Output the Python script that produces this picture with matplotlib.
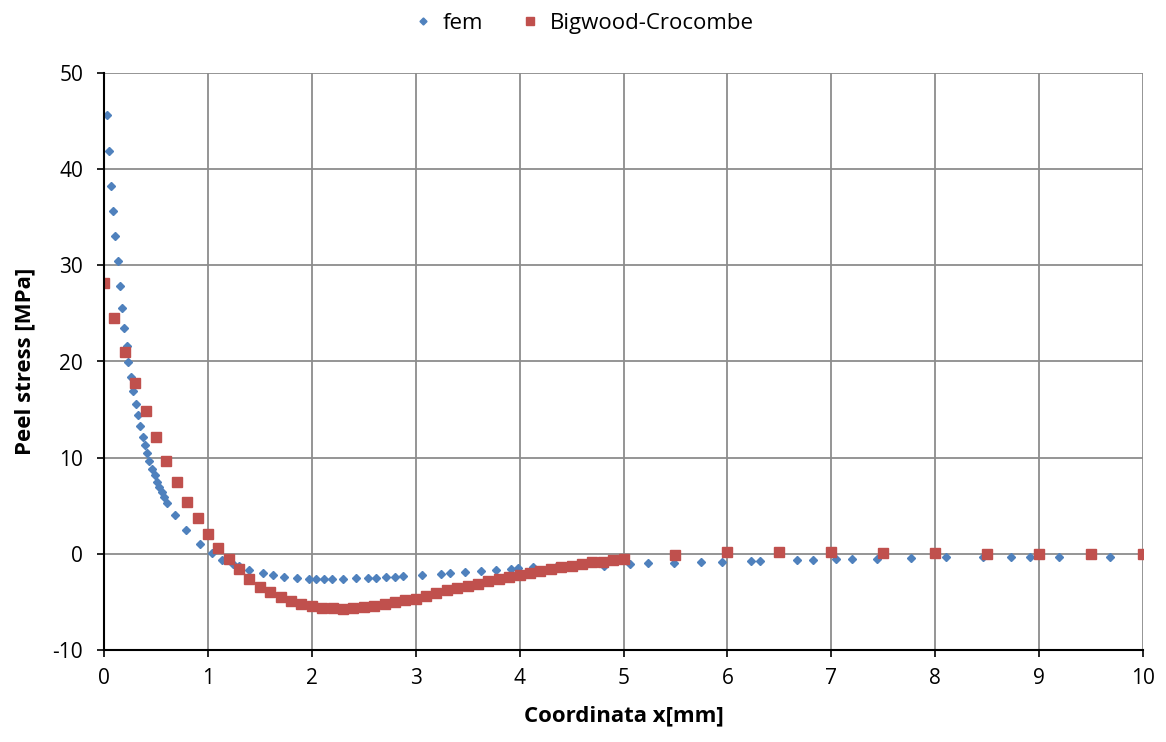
"""Peel stress along the overlap: FEM vs Bigwood-Crocombe closed form."""

import matplotlib
matplotlib.use("Agg")
import matplotlib.pyplot as plt

# ── Data ───────────────────────────────────────────────────────────────────
fem_x = [0.026, 0.048, 0.067, 0.09, 0.11, 0.13, 0.152, 0.176, 0.196, 0.218,
         0.234, 0.257, 0.282, 0.305, 0.324, 0.35, 0.372, 0.395, 0.414, 0.433,
         0.459, 0.49, 0.513, 0.532, 0.555, 0.58, 0.603, 0.68, 0.79, 0.924,
         1.04, 1.14, 1.24, 1.30, 1.40, 1.53, 1.63, 1.73, 1.86, 1.97,
         2.04, 2.12, 2.19, 2.30, 2.43, 2.54, 2.62, 2.71, 2.80, 2.88,
         3.06, 3.24, 3.33, 3.47, 3.63, 3.77, 3.92, 3.98, 4.13, 4.36,
         4.52, 4.81, 5.06, 5.24, 5.49, 5.75, 5.95, 6.23, 6.31, 6.67,
         6.82, 7.05, 7.20, 7.44, 7.77, 8.10, 8.46, 8.73, 8.91, 9.19, 9.68]
fem_y = [45.6, 41.9, 38.3, 35.7, 33.1, 30.4, 27.8, 25.6, 23.5, 21.6,
         19.9, 18.4, 16.9, 15.6, 14.4, 13.3, 12.2, 11.3, 10.5, 9.7,
         8.8, 8.2, 7.5, 6.9, 6.4, 5.9, 5.3, 4.0, 2.5, 1.0,
         0.07, -0.65, -1.07, -1.25, -1.66, -2.0, -2.2, -2.4, -2.5, -2.6,
         -2.6, -2.6, -2.6, -2.6, -2.55, -2.55, -2.5, -2.45, -2.4, -2.3,
         -2.2, -2.1, -2.0, -1.9, -1.8, -1.7, -1.6, -1.5, -1.4, -1.25,
         -1.25, -1.25, -1.07, -0.97, -0.97, -0.83, -0.83, -0.73, -0.73, -0.62,
         -0.62, -0.55, -0.52, -0.52, -0.45, -0.38, -0.38, -0.31, -0.31, -0.31, -0.31]

bc_x = [round(0.1 * i, 1) for i in range(51)] + [5.5, 6.0, 6.5, 7.0, 7.5, 8.0, 8.5, 9.0, 9.5, 10.0]
bc_y = [28.2, 24.5, 21.0, 17.8, 14.9, 12.2, 9.7, 7.5, 5.4, 3.7,
        2.05, 0.65, -0.55, -1.6, -2.6, -3.4, -3.95, -4.5, -4.9, -5.2,
        -5.45, -5.6, -5.65, -5.7, -5.6, -5.5, -5.4, -5.2, -5.05, -4.8,
        -4.65, -4.4, -4.1, -3.8, -3.6, -3.3, -3.1, -2.8, -2.6, -2.4,
        -2.2, -2.0, -1.77, -1.6, -1.42, -1.25, -1.07, -0.9, -0.8, -0.66,
        -0.55, -0.1, 0.14, 0.2, 0.2, 0.12, 0.07, 0.03, 0.0, 0.0, 0.0]

x_ticks = list(range(0, 11))
y_ticks = list(range(-10, 51, 10))

BLUE = "#4F81BD"
RED = "#C0504D"
FONT = ["Open Sans", "DejaVu Sans"]

plt.rcParams["font.family"] = FONT
plt.rcParams["axes.unicode_minus"] = False

fig = plt.figure(figsize=(11.66, 7.42), dpi=100)
ax = fig.add_axes([104 / 1166, 1 - 650 / 742, (1143 - 104) / 1166, (650 - 73) / 742])

ax.plot(fem_x, fem_y, linestyle="none", marker="D", markersize=4.2,
        color=BLUE, label="fem", zorder=3)
ax.plot(bc_x, bc_y, linestyle="none", marker="s", markersize=6.5,
        color=RED, label="Bigwood-Crocombe", zorder=3)

ax.set_xlim(0, 10)
ax.set_ylim(-10, 50)
ax.set_xticks(x_ticks)
ax.set_yticks(y_ticks)
ax.tick_params(axis="both", labelsize=15, length=5, width=1.2, direction="out")
ax.tick_params(axis="x", pad=8)
ax.tick_params(axis="y", pad=10)

ax.grid(True, color="#8c8c8c", linewidth=1.3)
ax.set_axisbelow(True)
for side in ("top", "right"):
    ax.spines[side].set_visible(False)
for side in ("left", "bottom"):
    ax.spines[side].set_linewidth(1.5)
    ax.spines[side].set_zorder(4)

ax.set_xlabel("Coordinata x[mm]", fontsize=16, fontweight="bold", labelpad=12)
ax.set_ylabel("Peel stress [MPa]", fontsize=16, fontweight="bold", labelpad=12)

fig.legend(loc="upper center", bbox_to_anchor=(0.5, 1.01), ncol=2, frameon=False,
           fontsize=16, handlelength=1.0, handletextpad=0.4, columnspacing=1.6,
           markerscale=0.85)

fig.savefig("out.png", dpi=100)
